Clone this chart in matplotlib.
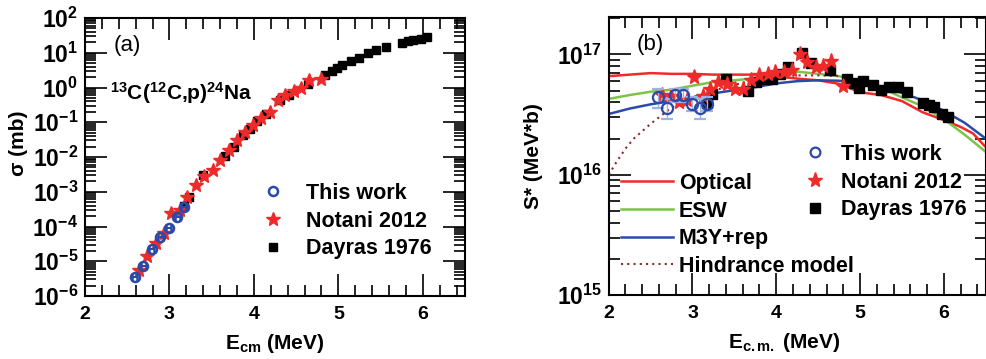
import math
import matplotlib
matplotlib.use("Agg")
import matplotlib.pyplot as plt
from matplotlib.ticker import FixedLocator, MultipleLocator, LogLocator, NullFormatter, FuncFormatter
from matplotlib.lines import Line2D

plt.rcParams['font.family'] = ['Liberation Sans', 'DejaVu Sans']
plt.rcParams['mathtext.fontset'] = 'custom'
plt.rcParams['mathtext.rm'] = 'Liberation Sans'
plt.rcParams['mathtext.bf'] = 'Liberation Sans:bold'
plt.rcParams['mathtext.it'] = 'Liberation Sans:italic'

# ---- data ----
this_e = [2.59, 2.69, 2.79, 2.89, 2.99, 3.09, 3.17]
this_sig = [3.5e-6, 7.4e-6, 2.3e-5, 5.1e-5, 8.9e-5, 1.85e-4, 3.7e-4]
this_S = [4.4e16, 3.6e16, 4.6e16, 4.6e16, 3.9e16, 3.6e16, 3.9e16]
this_Serr = [0.8e16, 0.7e16, 0.6e16, 0.6e16, 0.5e16, 0.7e16, 0.5e16]

notani_e = [2.64, 2.74, 2.84, 2.93, 3.02, 3.12, 3.21, 3.31, 3.41, 3.51, 3.60, 3.70,
            3.80, 3.90, 3.99, 4.09, 4.19, 4.28, 4.37, 4.47, 4.56, 4.65, 4.80]
notani_sig = [5.6e-6, 1.4e-5, 3.4e-5, 6.3e-5, 2.4e-4, 3.0e-4, 7.2e-4, 1.6e-3, 2.8e-3,
              4.3e-3, 8e-3, 1.55e-2, 3e-2, 5.4e-2, 8.5e-2, 0.13, 0.2, 0.45, 0.62,
              0.77, 1.0, 1.66, 1.8]
notani_S = [4.6e16, 4.5e16, 4.0e16, 4.2e16, 6.5e16, 4.5e16, 5.2e16, 5.9e16, 5.7e16,
            5.2e16, 5.2e16, 6.1e16, 6.8e16, 6.9e16, 7.1e16, 7.2e16, 7.4e16, 1.0e17,
            8.6e16, 7.8e16, 8.0e16, 8.9e16, 5.5e16]

dayras_e = [3.17, 3.23, 3.40, 3.66, 3.76, 3.87, 3.95, 4.04, 4.14, 4.31, 4.41, 4.64,
            4.84, 4.93, 4.99, 5.04, 5.15, 5.25, 5.35, 5.45, 5.56, 5.75, 5.82, 5.88,
            5.98, 6.05]
dayras_sig = [4.0e-4, 7e-4, 3.0e-3, 1.1e-2, 2.0e-2, 4.2e-2, 6.3e-2, 1.1e-1, 1.7e-1,
              0.45, 0.62, 1.3, 2.33, 3.0, 3.6, 4.5, 5.9, 7.0, 9.8, 12.2, 14.3, 19,
              21.3, 23.8, 25, 27.5]
dayras_S = [3.97e16, 4.7e16, 6.3e16, 5.0e16, 5.9e16, 6.3e16, 6.3e16, 6.9e16, 7.8e16,
            1.02e17, 8.5e16, 7.5e16, 6.2e16, 5.77e16, 5.25e16, 6.05e16, 5.57e16,
            5.1e16, 5.35e16, 5.35e16, 4.85e16, 3.97e16, 3.77e16, 3.64e16, 3.22e16,
            3.02e16]

opt_e = [2.0, 2.25, 2.5, 2.75, 3.0, 3.25, 3.5, 3.75, 4.0, 4.25, 4.5, 4.75, 5.0,
         5.25, 5.5, 5.75, 6.0, 6.2, 6.35, 6.45, 6.5]
opt_S = [6.6e16, 6.8e16, 7.0e16, 6.9e16, 6.9e16, 6.8e16, 6.8e16, 6.8e16, 6.6e16,
         6.3e16, 6.1e16, 5.7e16, 4.85e16, 4.6e16, 4.1e16, 3.3e16, 2.85e16, 2.5e16,
         2.2e16, 1.85e16, 1.7e16]
th_e = [2.0, 2.25, 2.5, 2.75, 3.0, 3.25, 3.5, 3.75, 4.0, 4.25, 4.5, 4.75, 5.0,
        5.25, 5.5, 5.75, 6.0, 6.25, 6.5]
esw_S = [4.27e16, 4.6e16, 4.9e16, 5.1e16, 5.5e16, 5.9e16, 6.1e16, 6.35e16, 6.5e16,
         7.2e16, 6.9e16, 6.6e16, 6.0e16, 5.3e16, 4.4e16, 3.7e16, 2.9e16, 2.15e16, 1.55e16]
m3y_S = [3.2e16, 3.55e16, 3.85e16, 4.1e16, 4.4e16, 4.75e16, 5.05e16, 5.35e16, 5.75e16,
         6.0e16, 6.1e16, 6.05e16, 5.8e16, 5.35e16, 4.8e16, 4.15e16, 3.4e16, 2.7e16, 2.0e16]
hin_e = [2.0, 2.1, 2.2, 2.3, 2.4, 2.5, 2.6, 2.7, 2.8, 3.0, 3.25, 3.5, 3.75, 4.0,
         4.25, 4.5, 4.8]
hin_S = [1.0e16, 1.3e16, 1.65e16, 2.0e16, 2.3e16, 2.65e16, 3.0e16, 3.4e16, 3.8e16,
         4.4e16, 5.0e16, 5.6e16, 6.1e16, 6.5e16, 6.7e16, 6.7e16, 6.6e16]

RED = '#ee2a2a'; BLUE = '#2b4aa8'; GREEN = '#7cc446'; BROWN = '#8b2a2a'
LEG = dict(bbox_transform=None, frameon=False, borderpad=0, borderaxespad=0,
           labelspacing=0.31, prop={'size': 15.5, 'weight': 'bold'})


def style(ax, ysize):
    ax.set_xlim(2, 6.5)
    ax.xaxis.set_major_locator(FixedLocator([2, 3, 4, 5, 6]))
    ax.xaxis.set_minor_locator(MultipleLocator(0.2))
    ax.yaxis.set_minor_locator(LogLocator(base=10, subs=range(2, 10), numticks=20))
    ax.yaxis.set_minor_formatter(NullFormatter())
    ax.yaxis.set_major_formatter(FuncFormatter(lambda v, p: r'$\mathbf{10^{%d}}$' % round(math.log10(v))))
    ax.tick_params(which='both', direction='in', top=True, right=True, width=1.2)
    ax.tick_params(which='major', length=16)
    ax.tick_params(which='minor', length=8)
    ax.tick_params(axis='x', labelsize=14, pad=7)
    ax.tick_params(axis='y', labelsize=ysize, pad=5)
    for lab in ax.get_xticklabels():
        lab.set_fontweight('bold')
    for s in ax.spines.values():
        s.set_linewidth(1.5)


fig = plt.figure(figsize=(9.87, 3.59), dpi=100)
LEG['bbox_transform'] = fig.transFigure

# ---- panel (a) ----
ax1 = fig.add_axes([85/987, 63/359, 380/987, 278/359])
ax1.set_yscale('log')
ax1.set_ylim(1e-6, 1e2)
ax1.plot(dayras_e, dayras_sig, 's', color='black', ms=6, ls='none')
ax1.plot(notani_e, notani_sig, '*', color=RED, ms=10, ls='none')
ax1.errorbar(this_e, this_sig, xerr=0.03, fmt='o', mfc='none', mec=BLUE, mew=1.8,
             ms=6.5, ecolor=BLUE, elinewidth=1.5, capsize=3)
ax1.yaxis.set_major_locator(FixedLocator([10.0**k for k in range(-6, 3)]))
style(ax1, 16.5)
ax1.set_xlabel(r'E$_{\mathbf{cm}}$ (MeV)', fontsize=15, fontweight='bold')
ax1.set_ylabel(r'σ (mb)', fontsize=15, fontweight='bold')
ax1.xaxis.set_label_coords(0.5, -0.13)
ax1.yaxis.set_label_coords(-0.15, 0.55)
ax1.text(0.075, 0.9, '(a)', transform=ax1.transAxes, fontsize=16, va='center')
ax1.text(0.065, 0.73, r'$^{\mathbf{13}}$C($^{\mathbf{12}}$C,p)$^{\mathbf{24}}$Na',
         transform=ax1.transAxes, fontsize=15, fontweight='bold', va='center')
h1 = [Line2D([], [], marker='o', mfc='none', mec=BLUE, mew=1.8, ms=6.5, ls='none'),
      Line2D([], [], marker='*', color=RED, ms=10, ls='none'),
      Line2D([], [], marker='s', color='black', ms=6, ls='none')]
ax1.legend(h1, ['This work', 'Notani 2012', 'Dayras 1976'], loc='upper left',
           bbox_to_anchor=(262/987, 1 - 183/359), handlelength=1.0,
           handletextpad=1.03, **LEG)

# ---- panel (b) ----
ax2 = fig.add_axes([608.7/987, 64/359, 377/987, 278/359])
ax2.set_yscale('log')
ax2.set_ylim(1e15, 2.05e17)
l_opt, = ax2.plot(opt_e, opt_S, color=RED, lw=1.8)
l_esw, = ax2.plot(th_e, esw_S, color=GREEN, lw=1.8)
l_m3y, = ax2.plot(th_e, m3y_S, color=BLUE, lw=1.8)
l_hin, = ax2.plot(hin_e, hin_S, color=BROWN, lw=1.5, ls=(0, (1, 2)))
ax2.plot(dayras_e, dayras_S, 's', color='black', ms=6.5, ls='none')
ax2.plot(notani_e, notani_S, '*', color=RED, ms=11, ls='none')
ax2.errorbar(this_e, this_S, yerr=this_Serr, fmt='o', mfc='none', mec=BLUE, mew=1.6,
             ms=8, ecolor='#9fb3de', elinewidth=1.0, capsize=4)
ax2.yaxis.set_major_locator(FixedLocator([1e15, 1e16, 1e17]))
style(ax2, 16.5)
ax2.set_xlabel(r'E$_{\mathbf{c.m.}}$ (MeV)', fontsize=15, fontweight='bold')
ax2.set_ylabel('S* (MeV*b)', fontsize=15, fontweight='bold')
ax2.xaxis.set_label_coords(0.466, -0.13)
ax2.yaxis.set_label_coords(-0.175, 0.5)
ax2.text(0.075, 0.9, '(b)', transform=ax2.transAxes, fontsize=16, va='center')
h2 = [Line2D([], [], marker='o', mfc='none', mec=BLUE, mew=1.6, ms=7, ls='none'),
      Line2D([], [], marker='*', color=RED, ms=11, ls='none'),
      Line2D([], [], marker='s', color='black', ms=6.5, ls='none')]
leg2 = ax2.legend(h2, ['This work', 'Notani 2012', 'Dayras 1976'], loc='upper left',
                  bbox_to_anchor=(804/987, 1 - 144/359), handlelength=1.0,
                  handletextpad=0.72, **LEG)
ax2.add_artist(leg2)
ax2.legend([l_opt, l_esw, l_m3y, l_hin], ['Optical', 'ESW', 'M3Y+rep', 'Hindrance model'],
           loc='upper left', bbox_to_anchor=(621/987, 1 - 173/359),
           handlelength=2.42, handletextpad=0.28, **LEG)

fig.savefig('out.png', dpi=100)
